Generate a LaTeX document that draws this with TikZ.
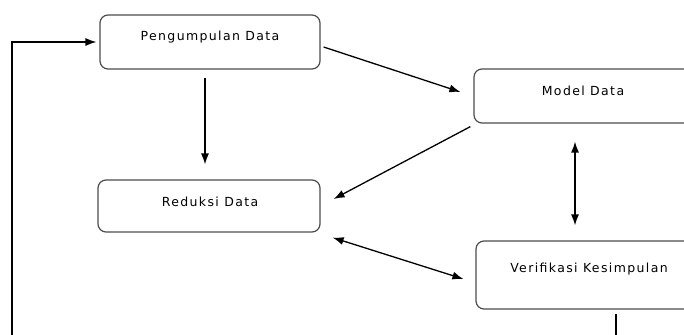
\documentclass[tikz,border=0pt]{standalone}
\usepackage{fontspec}
\newfontfamily\lblfont{DejaVu Sans}[LetterSpace=11]
\usetikzlibrary{arrows.meta}
\tikzset{
  box/.style={draw=black!70, line width=1.2pt, rounded corners=8pt, fill=white, inner sep=0pt},
  txt/.style={font=\lblfont\fontsize{12.5}{14}\selectfont, text=black, inner sep=0pt},
  tip/.style={-{Latex[length=11pt,width=8pt]}},
  conn/.style={draw=black, line width=1.3pt, -{Latex[length=11pt,width=8pt]}},
  dconn/.style={draw=black, line width=1.3pt, {Latex[length=11pt,width=8pt]}-{Latex[length=11pt,width=8pt]}},
  plain/.style={draw=black, line width=1.3pt}
}
\begin{document}
\begin{tikzpicture}[x=1pt,y=-1pt]
\useasboundingbox[fill=white] (0,0) rectangle (684,334);
\clip (0,0) rectangle (684,334);
% boxes
\node[box, minimum width=220pt, minimum height=54pt] (p) at (210,42) {};
\node[txt] (pt) at (210,37) {Pengumpulan Data};
\node[box, minimum width=226pt, minimum height=54pt] (m) at (587,96) {};
\node[txt] (mt) at (583,91) {Model Data};
\node[box, minimum width=222pt, minimum height=52pt] (r) at (209,206) {};
\node[txt] (rt) at (210,202) {Reduksi Data};
\node[box, minimum width=224pt, minimum height=68pt] (v) at (588,275) {};
\node[txt] (vt) at (589,269) {Verifikasi Kesimpulan};
% connectors
\draw[conn] ([shift={(3,5)}]p.east) -- ([shift={(-13,-4)}]m.west);
\draw[conn] ([shift={(-3,3)}]m.south west) -- ([shift={(13,-7)}]r.east);
\draw[conn] ([shift={(-5,8)}]p.south) -- ([shift={(-4,-15)}]r.north);
\draw[dconn] ([shift={(-12,18)}]m.south) -- ([shift={(-13,-15)}]v.north);
\draw[dconn] ([shift={(12,5)}]r.south east) -- ([shift={(-12,4)}]v.west);
\coordinate (fb) at (12,350);
\draw[plain] ([shift={(28,4)}]v.south) -- ++(0,40) -| (fb);
\draw[conn] (fb) |- ([shift={(-3,0)}]p.west);
\end{tikzpicture}
\end{document}
